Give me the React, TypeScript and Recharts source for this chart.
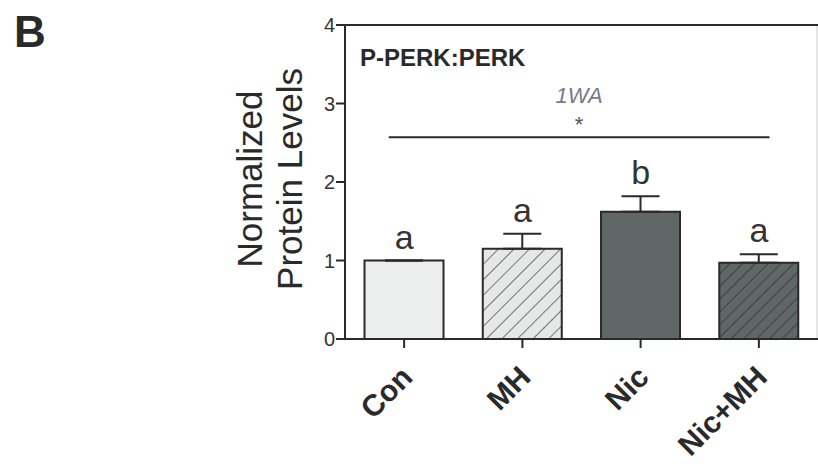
import React from 'react';
import {
  ComposedChart, Bar, Cell, XAxis, YAxis, ErrorBar, Line, LabelList,
  ReferenceLine, Customized,
} from 'recharts';

const categories = ['Con', 'MH', 'Nic', 'Nic+MH'];
const means = [1.0, 1.15, 1.62, 0.97];
const sems = [0, 0.19, 0.2, 0.11];
const letters = ['a', 'a', 'b', 'a'];
const yTicks = [0, 1, 2, 3, 4];
const sigLevel = 2.57;
const sigStart = 0.37;
const sigEnd = 3.59;
const panelLetter = 'B';
const title = 'P-PERK:PERK';
const testLabel = '1WA';
const sigMark = '*';
const yLabelLines = ['Normalized', 'Protein Levels'];

const fills = ['#eceeee', 'url(#hatchLight)', '#5f6767', 'url(#hatchDark)'];

const data = categories.map((c, i) => ({
  name: c,
  mean: means[i],
  err: [0, sems[i]],
  top: means[i] + sems[i],
  letter: letters[i],
  pos: i + 0.5,
}));

const FONT = '"Liberation Sans", Arial, sans-serif';
const INK = '#2a2a2a';

const XTick = (props: any) => {
  const { x, y, payload } = props;
  const ax = x + 10;
  const ay = y + 29;
  return (
    <text x={ax} y={ay} textAnchor="end" fontFamily={FONT} fontWeight="bold"
      fontSize={30} fill={INK} transform={`rotate(-45 ${ax} ${ay})`}>
      {payload.value}
    </text>
  );
};

const SigLabel = (props: any) => {
  const { viewBox } = props;
  const cx = viewBox.x + viewBox.width / 2;
  const y = viewBox.y;
  return (
    <g>
      <text x={cx} y={y - 34} textAnchor="middle" fontFamily={FONT} fontStyle="italic"
        fontSize={22} fill="#777a8c">{testLabel}</text>
      <text x={cx} y={y - 5} textAnchor="middle" fontFamily={FONT}
        fontSize={22} fill="#555">{sigMark}</text>
    </g>
  );
};

const Decor = () => (
  <g>
    <defs>
      <pattern id="hatchLight" patternUnits="userSpaceOnUse" width="11" height="11"
        patternTransform="rotate(45)">
        <rect width="11" height="11" fill="#e6e8e8" />
        <line x1="0" y1="0" x2="0" y2="11" stroke="#333" strokeWidth="1.3" />
      </pattern>
      <pattern id="hatchDark" patternUnits="userSpaceOnUse" width="9" height="9"
        patternTransform="rotate(45)">
        <rect width="9" height="9" fill="#5f6767" />
        <line x1="0" y1="0" x2="0" y2="9" stroke="#2a2a2a" strokeWidth="1.3" />
      </pattern>
    </defs>
    <text x={14} y={47} fontFamily={FONT} fontWeight="bold" fontSize={44} fill={INK}>
      {panelLetter}
    </text>
    <text x={360} y={66} fontFamily={FONT} fontWeight="bold" fontSize={24} fill={INK}>
      {title}
    </text>
    <text transform="rotate(-90)" fontFamily={FONT} fontSize={35} fill={INK} textAnchor="middle">
      <tspan x={-179} y={262}>{yLabelLines[0]}</tspan>
      <tspan x={-179} y={302}>{yLabelLines[1]}</tspan>
    </text>
    <line x1={817} y1={25} x2={817} y2={339} stroke="#ccc" strokeWidth={1} />
  </g>
);

export default function App() {
  return (
    <div style={{ position: 'absolute', left: 0, top: 0, width: 818, height: 472, background: '#fff' }}>
      <ComposedChart width={818} height={472} data={data}
        margin={{ top: 25, right: 0, bottom: 0, left: 0 }}
        barCategoryGap="16.5%">
        <Customized component={Decor} />
        <XAxis dataKey="name" xAxisId={0} tick={<XTick />} tickLine={{ stroke: INK, strokeWidth: 2 }}
          tickSize={9} axisLine={{ stroke: INK, strokeWidth: 2 }} interval={0} height={133} />
        <XAxis xAxisId="num" type="number" dataKey="pos" domain={[0, 4]} hide />
        <YAxis domain={[0, 4]} ticks={yTicks} width={345} tickSize={9}
          tick={{ fontFamily: FONT, fontSize: 20, fill: '#333' }}
          tickLine={{ stroke: INK, strokeWidth: 2 }} axisLine={{ stroke: INK, strokeWidth: 2 }}
          tickMargin={1} />
        <ReferenceLine y={4} stroke={INK} strokeWidth={2} />
        <Bar dataKey="mean" stroke={INK} strokeWidth={2} isAnimationActive={false}>
          {data.map((d, i) => <Cell key={d.name} fill={fills[i]} />)}
          <ErrorBar dataKey="err" width={19} stroke={INK} strokeWidth={2} direction="y" />
        </Bar>
        <Line dataKey="top" stroke="none" dot={false} activeDot={false} isAnimationActive={false}>
          <LabelList dataKey="letter" position="top" offset={12} fontFamily={FONT}
            fontSize={34} fill="#333" />
        </Line>
        <ReferenceLine xAxisId="num" segment={[{ x: sigStart, y: sigLevel }, { x: sigEnd, y: sigLevel }]}
          stroke={INK} strokeWidth={2} label={<SigLabel />} />
      </ComposedChart>
    </div>
  );
}
